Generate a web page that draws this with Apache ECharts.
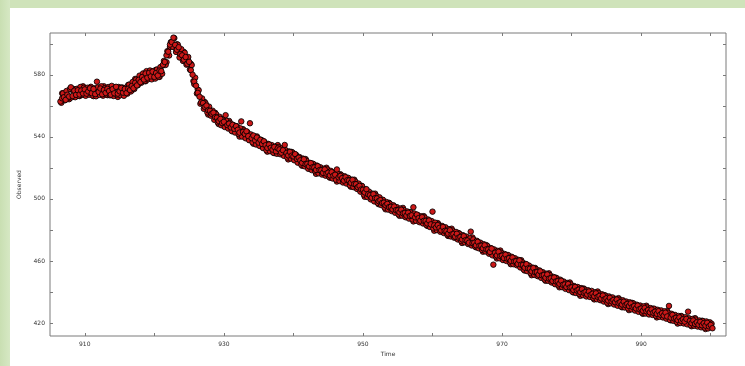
<!DOCTYPE html>
<html>
<head>
<meta charset="utf-8">
<script src="https://cdn.jsdelivr.net/npm/echarts@6/dist/echarts.min.js"></script>
<style>
html,body{margin:0;padding:0;width:745px;height:366px;overflow:hidden;background:#fff;}
#topband{position:absolute;left:0;top:0;width:745px;height:8px;background:#cfe3ba;}
#leftband{position:absolute;left:0;top:0;width:10px;height:366px;background:linear-gradient(to right,#c9dfb2,#d6e8c4);}
#chart{position:absolute;left:0;top:0;width:745px;height:366px;}
</style>
</head>
<body>
<div id="topband"></div>
<div id="leftband"></div>
<div id="chart"></div>
<script>
// Sampling grids of the time axis (interleaved sample sets)
const tStartA = 906.5;
const tStartB = 906.625;
const tStepAB = 0.25;
const tStartC = 906.75;
const tStepC = 0.5;
const observedA = [
  562.8, 564.9,
  565.6, 563.9, 567.2, 566.0,
  572.0, 566.4, 569.8, 567.1,
  570.1, 567.4, 569.9, 568.0,
  570.6, 567.9, 569.3, 571.4,
  568.2, 570.9, 567.6, 575.6,
  569.0, 571.2, 567.5, 570.3,
  568.4, 571.0, 569.6, 567.2,
  570.8, 568.1, 572.3, 567.9,
  569.4, 571.6, 568.5, 570.9,
  568.3, 571.1, 570.2, 572.8,
  571.4, 574.9, 573.2, 576.8,
  575.3, 578.6, 577.0, 580.9,
  578.2, 581.3, 579.0, 582.1,
  578.7, 581.2, 579.6, 582.8,
  582.4, 586.5, 588.3, 592.6,
  594.9, 599.5, 601.2, 604.0,
  599.3, 596.2, 597.8, 593.4,
  592.6, 589.8, 591.5, 587.2,
  588.4, 583.0, 580.1, 575.6,
  573.0, 568.4, 565.9, 562.3,
  561.8, 559.4, 560.2, 557.1,
  556.8, 554.9, 555.6, 552.7,
  552.4, 550.3, 551.6, 548.9,
  549.7, 554.0, 547.6, 548.5,
  546.1, 547.8, 545.2, 546.9,
  544.6, 542.8, 550.0, 543.2,
  541.9, 543.6, 540.5, 548.8,
  539.2, 540.9, 537.8, 539.6,
  536.3, 538.1, 535.4, 537.2,
  534.6, 532.9, 535.1, 533.0,
  531.8, 533.5, 530.7, 532.6,
  531.9, 529.8, 531.4, 534.8,
  529.6, 528.1, 530.3, 527.9,
  527.4, 528.9, 525.8, 526.6,
  524.9, 523.3, 525.6, 522.4,
  522.6, 521.0, 523.1, 520.4,
  520.3, 518.7, 521.1, 518.6,
  518.5, 516.8, 519.0, 516.3,
  516.9, 515.2, 517.3, 515.0,
  515.6, 519.0, 513.9, 514.8,
  513.4, 511.8, 514.0, 512.1,
  511.9, 510.4, 512.3, 509.6,
  509.5, 507.6, 508.4, 506.1,
  505.9, 504.2, 506.3, 503.0,
  502.4, 500.8, 503.1, 500.5,
  500.3, 498.6, 499.2, 497.4,
  497.6, 495.9, 496.8, 494.7,
  494.9, 493.3, 495.1, 492.8,
  492.6, 491.4, 493.0, 490.7,
  490.9, 489.2, 491.1, 489.0,
  489.4, 494.6, 488.1, 489.9,
  487.6, 486.0, 488.2, 485.9,
  485.8, 484.2, 486.1, 483.6,
  491.8, 483.0, 481.6, 483.1,
  481.3, 479.7, 481.9, 479.4,
  479.2, 477.6, 479.8, 477.1,
  477.3, 475.6, 477.5, 475.0,
  475.4, 473.9, 476.0, 473.4,
  473.2, 471.8, 478.9, 471.5,
  471.7, 470.1, 472.3, 469.8,
  469.8, 468.2, 470.1, 467.5,
  467.4, 465.8, 468.0, 457.6,
  465.3, 463.6, 465.9, 463.2,
  463.4, 461.9, 464.0, 461.5,
  461.8, 460.1, 462.2, 459.7,
  459.8, 458.1, 460.3, 457.6,
  457.4, 455.7, 457.9, 455.2,
  454.9, 453.3, 455.4, 452.8,
  452.8, 451.1, 453.3, 450.7,
  450.9, 449.2, 451.3, 448.6,
  448.8, 447.1, 449.3, 446.8,
  446.9, 445.3, 447.2, 444.6,
  444.8, 443.2, 445.1, 442.9,
  442.9, 441.3, 443.2, 441.0,
  441.4, 439.9, 441.8, 439.5,
  439.9, 438.4, 440.3, 438.2,
  438.8, 437.3, 439.1, 436.9,
  437.4, 435.8, 437.7, 435.3,
  435.9, 434.5, 436.2, 434.0,
  434.8, 433.4, 435.1, 432.9,
  433.4, 431.9, 433.7, 431.6,
  432.3, 430.9, 432.6, 430.4,
  430.9, 429.4, 431.2, 428.9,
  429.3, 427.9, 429.6, 427.6,
  428.4, 426.9, 428.7, 426.6,
  427.3, 425.9, 427.6, 425.4,
  426.3, 424.8, 426.6, 424.2,
  431.0, 423.5, 425.2, 422.9,
  423.3, 421.9, 423.6, 421.4,
  422.4, 420.9, 422.6, 427.3,
  421.3, 419.9, 421.6, 419.4,
  420.4, 418.9, 420.7, 418.5,
  419.8, 418.3, 420.1, 417.8,
  418.7, 416.6
];
const observedB = [
  562.0, 568.1,
  563.6, 569.6, 565.1, 571.0,
  565.5, 570.9, 565.6, 571.0,
  566.5, 572.2, 567.1, 571.7,
  566.5, 571.7, 567.2, 572.3,
  566.7, 571.3, 566.2, 571.9,
  567.1, 572.6, 566.6, 571.4,
  567.4, 572.1, 566.8, 572.9,
  566.4, 571.6, 567.3, 572.2,
  566.9, 571.9, 566.5, 571.7,
  567.9, 573.7, 569.3, 575.4,
  570.9, 577.0, 573.3, 579.5,
  574.9, 580.9, 576.0, 582.4,
  577.2, 582.8, 577.1, 582.5,
  577.6, 583.4, 578.7, 585.0,
  580.7, 589.0, 586.4, 595.3,
  592.5, 601.1, 598.2, 603.7,
  594.8, 599.5, 591.2, 596.6,
  589.0, 594.2, 586.6, 591.5,
  583.4, 586.3, 576.0, 578.2,
  568.0, 570.1, 561.4, 564.8,
  558.1, 561.6, 555.8, 559.5,
  553.7, 556.9, 551.0, 554.7,
  549.4, 553.0, 547.5, 551.2,
  546.4, 550.4, 545.4, 549.1,
  543.8, 547.7, 542.8, 546.9,
  541.8, 545.5, 540.2, 544.1,
  539.1, 543.1, 537.9, 541.6,
  536.5, 540.2, 535.1, 539.2,
  534.2, 538.1, 532.8, 536.4,
  531.4, 535.5, 530.8, 534.7,
  529.7, 533.7, 529.1, 533.4,
  528.8, 532.7, 527.8, 531.5,
  526.7, 530.6, 526.0, 529.9,
  524.9, 528.5, 523.4, 527.0,
  522.1, 526.0, 521.0, 524.6,
  519.5, 523.2, 518.6, 522.5,
  517.8, 521.5, 516.5, 520.4,
  515.7, 519.5, 515.0, 519.0,
  514.3, 518.1, 513.2, 517.1,
  512.4, 516.2, 511.6, 515.4,
  510.6, 514.6, 509.9, 513.6,
  508.7, 512.4, 507.6, 511.3,
  506.5, 509.9, 504.7, 508.3,
  502.8, 506.2, 501.2, 504.7,
  499.7, 503.4, 498.4, 502.1,
  497.4, 501.0, 496.0, 499.4,
  494.4, 498.0, 493.1, 496.9,
  492.2, 495.9, 491.1, 494.7,
  490.0, 493.8, 489.2, 492.9,
  488.2, 491.9, 487.3, 491.3,
  486.8, 490.6, 485.9, 489.6,
  485.0, 488.8, 484.2, 488.0,
  483.2, 486.7, 481.9, 485.7,
  481.0, 484.7, 479.9, 483.5,
  478.8, 482.6, 478.0, 481.7,
  476.9, 480.5, 475.8, 479.6,
  475.0, 478.7, 473.9, 477.5,
  472.8, 476.6, 472.0, 475.7,
  470.9, 474.6, 470.0, 473.9,
  469.3, 473.0, 468.2, 471.8,
  467.1, 470.8, 466.1, 469.7,
  464.7, 468.3, 463.6, 467.4,
  462.8, 466.5, 461.7, 465.3,
  460.6, 464.5, 460.0, 463.8,
  459.1, 462.7, 457.9, 461.7,
  457.2, 460.7, 455.8, 459.3,
  454.4, 458.1, 453.4, 457.0,
  452.1, 455.7, 451.0, 454.8,
  450.2, 453.9, 449.1, 452.7,
  448.0, 451.8, 447.2, 450.9,
  446.1, 449.7, 445.0, 448.8,
  444.2, 447.9, 443.1, 446.7,
  442.0, 445.8, 441.2, 444.9,
  440.1, 443.8, 439.3, 443.2,
  438.7, 442.5, 437.9, 441.6,
  437.1, 441.1, 436.8, 440.7,
  436.1, 439.8, 435.3, 439.2,
  434.7, 438.5, 433.8, 437.6,
  433.1, 437.1, 432.7, 436.5,
  431.9, 435.6, 431.1, 435.0,
  430.6, 434.6, 430.0, 433.8,
  429.4, 433.3, 428.8, 432.6,
  428.0, 431.8, 427.2, 431.2,
  426.7, 430.7, 426.1, 430.0,
  425.5, 429.6, 425.2, 429.2,
  424.6, 428.5, 424.0, 428.1,
  423.6, 427.5, 422.8, 426.6,
  422.0, 425.9, 421.4, 425.2,
  420.6, 424.5, 420.0, 424.1,
  419.7, 423.7, 419.1, 423.0,
  418.5, 422.6, 418.2, 422.2,
  417.7, 421.6, 417.2, 421.3,
  417.0, 421.0, 416.5, 420.4,
  419.5
];
const observedC = [
  568.1,
  565.9, 564.3, 570.1, 569.1, 566.3, 572.6, 568.1, 571.5, 566.3, 570.2,
  567.5, 572.6, 566.9, 569.8, 571.9, 565.8, 570.4, 568.4, 573.5, 570.0,
  577.4, 574.5, 577.8, 575.9, 581.9, 579.6, 583.3, 578.7, 586.1, 588.2,
  598.0, 598.0, 599.7, 592.6, 594.8, 587.2, 587.1, 574.0, 570.5, 562.2,
  562.5, 554.4, 555.8, 555.5, 548.3, 551.4, 547.8, 550.3, 543.6, 545.9,
  540.2, 545.0, 540.0, 540.1, 535.6, 540.3, 534.3, 537.0, 530.5, 533.3,
  529.6, 534.7, 529.9, 531.3, 525.5, 530.3, 525.3, 525.8, 521.4, 525.7,
  519.6, 522.7, 516.2, 519.5, 517.1, 520.1, 513.7, 516.6, 511.2, 515.9,
  511.3, 512.4, 507.9, 512.4, 506.5, 508.5, 501.4, 504.0, 500.9, 503.4,
  496.6, 499.4, 493.3, 497.5, 492.9, 493.6, 489.1, 494.2, 488.3, 491.4,
  485.5, 489.2, 486.2, 488.9, 482.6, 485.1, 479.5, 484.4, 479.8, 480.4,
  476.1, 480.8, 475.3, 478.0, 471.6, 474.8, 472.2, 475.1, 468.8, 471.6,
  466.0, 470.2, 465.2, 466.3, 461.6, 466.7, 460.9, 463.8, 457.9, 461.1,
  458.1, 460.5, 453.8, 456.6, 450.8, 455.5, 450.9, 451.4, 447.2, 452.0,
  446.4, 449.2, 443.0, 446.1, 443.5, 446.1, 439.7, 442.8, 437.5, 442.2,
  438.0, 439.3, 435.2, 440.3, 434.9, 437.9, 432.2, 435.7, 433.2, 436.0,
  430.1, 433.4, 428.3, 432.9, 428.8, 429.9, 425.9, 431.1, 426.1, 429.1,
  423.6, 427.2, 425.0, 427.6, 421.7, 424.7, 419.6, 424.5, 420.4, 421.7,
  417.9, 423.1, 418.2, 421.4, 416.1, 419.5
];
// Axis ticks and labels
const xTicks = [910, 920, 930, 940, 950, 960, 970, 980, 990, 1000];
const xLabels = [910, 930, 950, 970, 990];
const yTicks = [420, 440, 460, 480, 500, 520, 540, 560, 580, 600];
const yLabels = [420, 460, 500, 540, 580];
const xMin = 905, xMax = 1002.2, yMin = 411.6, yMax = 607;

const points = [];
observedC.forEach((v, i) => points.push([tStartC + i * tStepC, v]));
observedB.forEach((v, i) => points.push([tStartB + i * tStepAB, v]));
observedA.forEach((v, i) => points.push([tStartA + i * tStepAB, v]));

const axisColor = '#7a7a7a';
const labelStyle = {fontSize: 6, color: '#333', fontFamily: 'DejaVu Sans'};

function xAxisDef(pos, showLabels) {
  return {
    type: 'value', position: pos, min: xMin, max: xMax,
    axisLine: {show: false},
    splitLine: {show: false},
    axisTick: {show: true, inside: true, length: 3, customValues: xTicks, lineStyle: {color: axisColor, width: 1}},
    axisLabel: showLabels ? Object.assign({show: true, margin: 5, customValues: xLabels}, labelStyle) : {show: false}
  };
}
function yAxisDef(pos, showLabels) {
  return {
    type: 'value', position: pos, min: yMin, max: yMax,
    axisLine: {show: false},
    splitLine: {show: false},
    axisTick: {show: true, inside: true, length: 3, customValues: yTicks, lineStyle: {color: axisColor, width: 1}},
    axisLabel: showLabels ? Object.assign({show: true, margin: 5, customValues: yLabels}, labelStyle) : {show: false}
  };
}

const chart = echarts.init(document.getElementById('chart'), null, {renderer: 'canvas'});
const xb = xAxisDef('bottom', true);
xb.name = 'Time'; xb.nameLocation = 'middle'; xb.nameGap = 12;
xb.nameTextStyle = {fontSize: 6, color: '#333', fontFamily: 'DejaVu Sans'};
const yl = yAxisDef('left', true);
yl.name = 'Observed'; yl.nameLocation = 'middle'; yl.nameGap = 14;
yl.nameTextStyle = {fontSize: 6, color: '#333', fontFamily: 'DejaVu Sans'};

chart.setOption({
  animation: false,
  backgroundColor: 'transparent',
  grid: {left: 50, top: 33, right: 19, bottom: 30, show: true, borderColor: axisColor, borderWidth: 1, backgroundColor: 'transparent'},
  xAxis: [xb, xAxisDef('top', false)],
  yAxis: [yl, yAxisDef('right', false)],
  series: [{
    type: 'scatter',
    xAxisIndex: 0, yAxisIndex: 0,
    data: points,
    symbol: 'circle',
    symbolSize: 5.5,
    itemStyle: {color: '#cc1818', borderColor: '#000000', borderWidth: 0.85, opacity: 1}
  }]
});
</script>
</body>
</html>
